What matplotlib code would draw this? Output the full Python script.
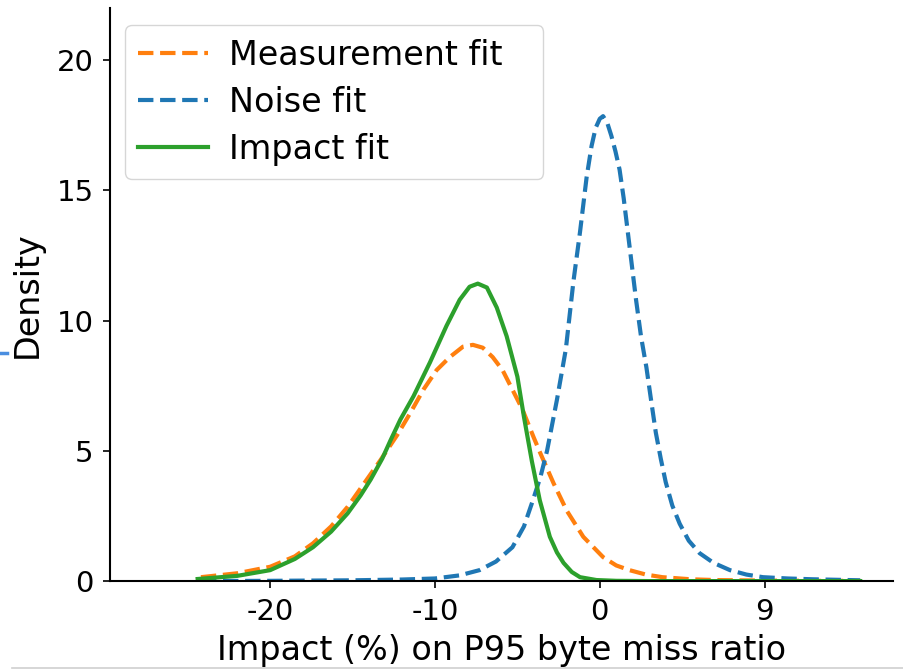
import matplotlib
matplotlib.use("Agg")
import matplotlib.pyplot as plt
from matplotlib.lines import Line2D

# Measurement fit (orange dashed)
meas_x = [-24.2, -22, -20, -18.5, -17.4, -16.3, -15.3, -14.3, -13.3, -12.3, -11.5, -10.7,
          -9.9, -9.1, -8.3, -7.7, -7.1, -6.5, -5.9, -5.3, -4.7, -4.0, -3.6, -2.8, -2.0,
          -1.0, 0.2, 1.0, 1.8, 2.8, 3.8, 5.5, 7.0, 10.0, 13.0, 15.8]
meas_y = [0.15, 0.3, 0.55, 0.95, 1.45, 2.1, 2.85, 3.75, 4.65, 5.6, 6.45, 7.35,
          8.1, 8.6, 9.0, 9.07, 8.96, 8.6, 8.1, 7.35, 6.6, 5.5, 4.9, 3.75, 2.7,
          1.7, 0.92, 0.6, 0.42, 0.25, 0.15, 0.07, 0.04, 0.02, 0.01, 0.01]

# Noise fit (blue dashed)
noise_x = [-24.2, -20, -15, -12, -10, -8.5, -7.3, -6.3, -5.3, -4.6, -4.06, -3.6, -3.2, -2.6,
           -2.06, -1.6, -1.2, -0.8, -0.5, -0.25, 0.0, 0.2, 0.45, 0.7, 0.95, 1.2, 1.45, 1.7,
           1.95, 2.2, 2.5, 2.83, 3.1, 3.4, 3.7, 4.0, 4.4, 4.85, 5.4, 6.06, 6.9, 7.9, 8.9,
           9.9, 11.4, 12.9, 15.8]
noise_y = [0.0, 0.01, 0.03, 0.06, 0.1, 0.22, 0.42, 0.75, 1.3, 2.1, 3.1, 4.0, 5.0, 6.96,
           8.9, 11.5, 13.4, 15.5, 16.7, 17.4, 17.75, 17.85, 17.6, 17.1, 16.5, 15.8, 14.7, 13.4,
           12.1, 10.8, 9.4, 8.2, 7.0, 5.7, 4.7, 3.8, 2.9, 2.2, 1.55, 1.07, 0.7, 0.42, 0.25,
           0.15, 0.1, 0.07, 0.03]

# Impact fit (green solid)
impact_x = [-24.4, -22, -20, -18.5, -17.4, -16.3, -15.3, -14.5, -13.9, -13.2, -12.7, -12.1,
            -11.3, -10.3, -9.3, -8.5, -7.9, -7.4, -6.85, -6.25, -5.65, -5.0, -4.6, -4.12,
            -3.64, -3.03, -2.6, -2.2, -1.7, -1.2, -0.2, 1.0, 3.0, 6.0, 10.0, 15.8]
impact_y = [0.08, 0.2, 0.42, 0.85, 1.3, 1.9, 2.6, 3.3, 3.9, 4.7, 5.4, 6.2,
            7.1, 8.4, 9.8, 10.8, 11.3, 11.42, 11.27, 10.5, 9.4, 7.85, 6.3, 4.6,
            3.1, 1.7, 1.1, 0.7, 0.35, 0.15, 0.04, 0.01, 0.0, 0.0, 0.0, 0.0]

xtick_pos = [-20, -10, 0, 10]
xtick_labels = ["-20", "-10", "0", "9"]
ytick_pos = [0, 5, 10, 15, 20]

plt.rcParams['font.family'] = ['DejaVu Sans']
fig = plt.figure(figsize=(9.04, 6.71), dpi=100)
ax = fig.add_axes([0.122, 0.134, 0.866, 0.854])

ax.plot(meas_x, meas_y, color='#ff7f0e', ls='--', lw=3, label='Measurement fit')
ax.plot(noise_x, noise_y, color='#1f77b4', ls='--', lw=3, label='Noise fit')
ax.plot(impact_x, impact_y, color='#2ca02c', ls='-', lw=3, label='Impact fit')

ax.set_xlim(-29.7, 17.8)
ax.set_ylim(0, 22)
ax.set_xticks(xtick_pos)
ax.set_xticklabels(xtick_labels)
ax.set_yticks(ytick_pos)
ax.tick_params(labelsize=21, length=5, width=1.2, pad=7)
for s in ['top', 'right']:
    ax.spines[s].set_visible(False)
for s in ['left', 'bottom']:
    ax.spines[s].set_linewidth(1.5)

ax.set_xlabel('Impact (%) on P95 byte miss ratio', fontsize=24, labelpad=6)
ax.set_ylabel('Density', fontsize=24, labelpad=9)

ax.legend(loc='upper left', fontsize=24, handlelength=2.1, handletextpad=0.62,
          labelspacing=0.42, frameon=True, mode='expand', borderaxespad=0,
          bbox_to_anchor=(0.019, 0.5, 0.534, 0.47))

# screenshot edge artifacts seen in the reference
fig.add_artist(Line2D([0.013, 1.0], [0.0045, 0.0045], transform=fig.transFigure,
                      color='#cfcfcf', lw=1.2))
fig.add_artist(Line2D([0.0, 0.008], [0.474, 0.474], transform=fig.transFigure,
                      color='#4a8ee0', lw=2.5))

fig.savefig('out.png', dpi=100)
